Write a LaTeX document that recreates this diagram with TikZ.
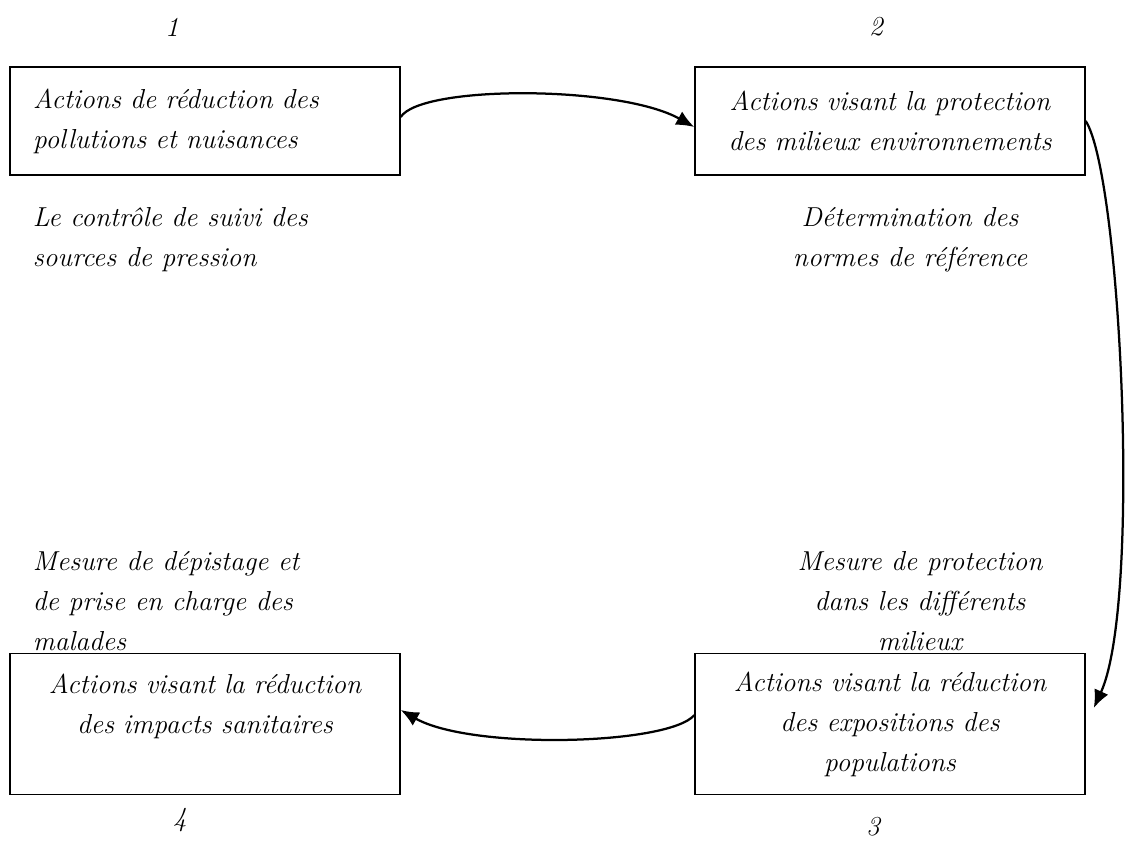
\documentclass[tikz,border=0pt]{standalone}
\usetikzlibrary{positioning,arrows.meta}

\begin{document}
\begin{tikzpicture}[ x=0.025cm, y=-0.025cm,
	every node/.style={font=\fontsize{19.5}{28.5}\selectfont\itshape},
	box/.style={draw, line width=1pt, minimum width=9.75cm, text width=8.8cm, inner xsep=0.475cm},
	flow/.style={line width=1.6pt, -{Latex[length=0.45cm,width=0.38cm]}} ]
	\useasboundingbox (0,0) rectangle (1129,844);
	% the four boxes
	\node[box, align=left, minimum height=2.7cm] (b1) at (205,121)
		{\hspace*{3pt}Actions de réduction des\\\hspace*{3pt}pollutions et nuisances};
	\node[box, align=center, minimum height=2.7cm] (b2) at (890,121)
		{Actions visant la protection\\des milieux environnements};
	\node[box, align=center, minimum height=3.52cm] (b3) at (890,724)
		{Actions visant la réduction\\des expositions des\\populations};
	\node[box, align=center, minimum height=3.52cm] (b4) at (205,724)
		{Actions visant la réduction\\des impacts sanitaires\\\mbox{}};
	% numbers
	\node (n1) at (172,27) {1};
	\node (n2) at (876,27) {2};
	\node (n3) at (873,827) {3};
	\node (n4) at (180,820) {4};
	% comments on each step
	\node[anchor=west, align=left] (c1) at (28,240)
		{Le contrôle de suivi des\\sources de pression};
	\node[align=center] (c2) at (910,240)
		{Détermination des\\normes de référence};
	\node[align=center] (c3) at (920,601)
		{Mesure de protection\\dans les différents\\milieux};
	\node[anchor=west, align=left] (c4) at (28,601)
		{Mesure de dépistage et\\de prise en charge des\\malades};
	% the cycle
	\draw[flow] ([yshift=0.1cm]b1.east) .. controls +(20,-32) and +(-75,-42) .. ([yshift=-0.15cm]b2.west);
	\draw[flow] (b2.east) .. controls +(35,55) and +(48,-105) .. ([xshift=0.2cm,yshift=0.4cm]b3.east);
	\draw[flow] ([yshift=0.22cm]b3.west) .. controls +(-26,30) and +(70,40) .. ([yshift=0.35cm]b4.east);
\end{tikzpicture}
\end{document}
